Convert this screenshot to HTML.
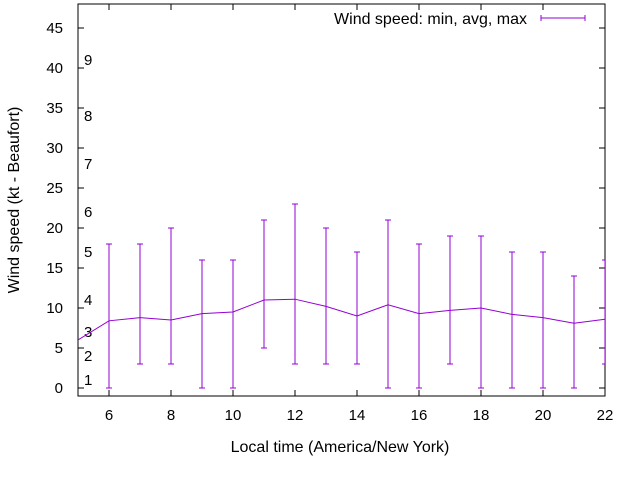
<!DOCTYPE html>
<html><head><meta charset="utf-8"><style>body{margin:0;background:#fff}svg{display:block;font-family:"Liberation Sans",sans-serif}</style></head>
<body>
<svg id="c" width="640" height="480" viewBox="0 0 640 480"></svg>
<script>
const hours=[5,6,7,8,9,10,11,12,13,14,15,16,17,18,19,20,21,22];
const avgVals=[6,8.4,8.8,8.5,9.3,9.5,11,11.1,10.2,9,10.4,9.3,9.7,10,9.2,8.8,8.1,8.6];
const minVals=[6,0,3,3,0,0,5,3,3,3,0,0,3,0,0,0,0,3];
const maxVals=[6,18,18,20,16,16,21,23,20,17,21,18,19,19,17,17,14,16];
const yTicks=[0,5,10,15,20,25,30,35,40,45];
const xTicks=[6,8,10,12,14,16,18,20,22];
const beaufort=[["1",379],["2",355],["3",331],["4",299],["5",251],["6",211],["7",163],["8",115],["9",59]];
const L=78,R=605,T=4,B=396,C="#9400d3";
const sx=v=>L+(v-5)*(R-L)/17, sy=v=>388-v*8;
const svg=document.getElementById('c'),NS="http://www.w3.org/2000/svg";
function mk(t,a,p,name){const e=document.createElementNS(NS,t);for(const k in a)e.setAttribute(k,a[k]);


(p||svg).appendChild(e);return e;}
const clip=mk('clipPath',{id:'pc'},svg,'plot-clip');mk('rect',{x:L,y:T,width:R-L,height:B-T},clip,'clip-rect');
yTicks.forEach(v=>{const y=sy(v);
mk('line',{x1:L,x2:L+6,y1:y,y2:y,stroke:'#000'},svg,'y-tick');
mk('line',{x1:R-6,x2:R,y1:y,y2:y,stroke:'#000'},svg,'y-tick-right');
const t=mk('text',{x:63,y:y+5,'text-anchor':'end','font-size':15},svg,'y-tick-label');t.textContent=v;});
xTicks.forEach(v=>{const x=sx(v);
mk('line',{x1:x,x2:x,y1:B,y2:B-6,stroke:'#000'},svg,'x-tick');
mk('line',{x1:x,x2:x,y1:T,y2:T+6,stroke:'#000'},svg,'x-tick-top');
const t=mk('text',{x:x,y:420,'text-anchor':'middle','font-size':15},svg,'x-tick-label');t.textContent=v;});
beaufort.forEach(b=>{const t=mk('text',{x:84,y:b[1]+6,'font-size':15},svg,'beaufort-label');t.textContent=b[0];});
mk('rect',{x:L,y:T,width:R-L,height:B-T,fill:'none',stroke:'#000'},svg,'plot-frame');
const g=mk('g',{'clip-path':'url(#pc)',stroke:C,fill:'none'},svg,'series-wind');
hours.forEach((h,i)=>{if(maxVals[i]===minVals[i])return;const x=sx(h);
mk('line',{x1:x,x2:x,y1:sy(minVals[i]),y2:sy(maxVals[i])},g,'error-bar');
mk('line',{x1:x-3,x2:x+3,y1:sy(minVals[i]),y2:sy(minVals[i])},g,'error-cap-min');
mk('line',{x1:x-3,x2:x+3,y1:sy(maxVals[i]),y2:sy(maxVals[i])},g,'error-cap-max');});
mk('polyline',{points:hours.map((h,i)=>sx(h)+','+sy(avgVals[i])).join(' ')},g,'avg-line');
const lt=mk('text',{x:527,y:24,'text-anchor':'end','font-size':16},svg,'legend-label');lt.textContent='Wind speed: min, avg, max';
mk('line',{x1:541,x2:585,y1:18,y2:18,stroke:C},svg,'legend-line');
mk('line',{x1:541,x2:541,y1:15,y2:21,stroke:C},svg,'legend-cap');
mk('line',{x1:585,x2:585,y1:15,y2:21,stroke:C},svg,'legend-cap');
const xt=mk('text',{x:340,y:452,'text-anchor':'middle','font-size':16},svg,'x-axis-title');xt.textContent='Local time (America/New York)';
const yt=mk('text',{x:19,y:200,'text-anchor':'middle','font-size':16,transform:'rotate(-90 19 200)'},svg,'y-axis-title');yt.textContent='Wind speed (kt - Beaufort)';
</script>
</body></html>
